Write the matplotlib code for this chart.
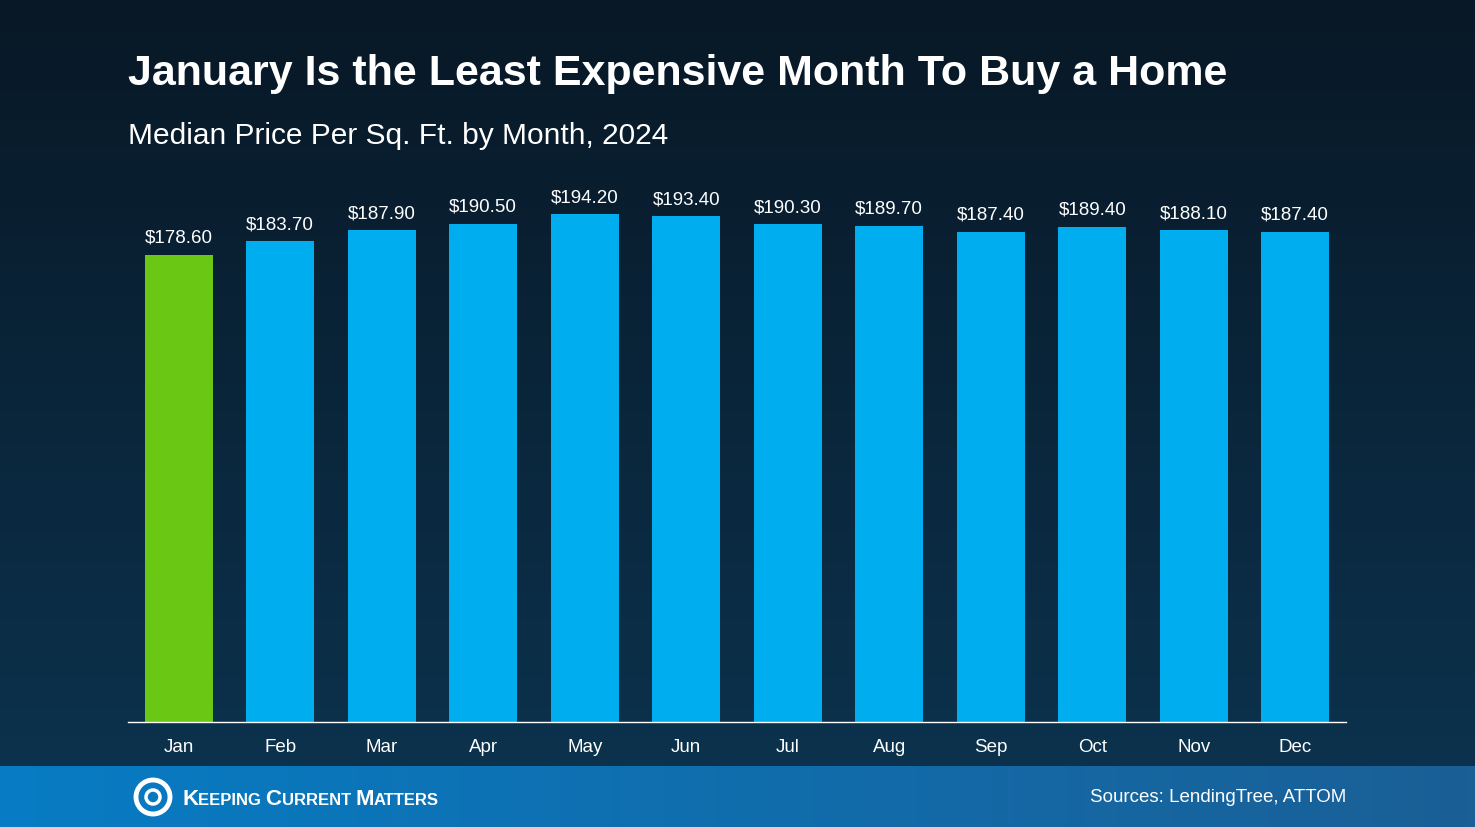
import numpy as np
import matplotlib
matplotlib.use("Agg")
import matplotlib.pyplot as plt
from matplotlib.patches import Ellipse

plt.rcParams['font.family'] = ['Liberation Sans', 'DejaVu Sans']

months = ["Jan", "Feb", "Mar", "Apr", "May", "Jun", "Jul", "Aug", "Sep", "Oct", "Nov", "Dec"]
prices = [178.6, 183.7, 187.9, 190.5, 194.2, 193.4, 190.3, 189.7, 187.4, 189.4, 188.1, 187.4]
labels = ["$%.2f" % p for p in prices]

W, H = 1475, 827
fig = plt.figure(figsize=(W / 100, H / 100), dpi=100)

# background gradient
bg = fig.add_axes([0, 0, 1, 1])
grad = np.linspace(0, 1, 256).reshape(-1, 1)
top = np.array([0x08, 0x18, 0x26]) / 255
bot = np.array([0x0c, 0x34, 0x50]) / 255
img = top + (bot - top) * grad[:, :, None]
bg.imshow(img, aspect="auto", extent=[0, 1, 0, 1], origin="upper")
# footer band
fh = 60 / H
fgrad = np.linspace(0, 1, 256).reshape(1, -1)
fl = np.array([0x07, 0x7c, 0xc4]) / 255
fr = np.array([0x1a, 0x5f, 0x96]) / 255
fimg = fl + (fr - fl) * fgrad[:, :, None]
bg.imshow(fimg, aspect="auto", extent=[0, 1, 0, fh], origin="upper")
bg.set_xlim(0, 1)
bg.set_ylim(0, 1)
bg.axis("off")

fig.text(128 / W, 1 - 74 / H, "January Is the Least Expensive Month To Buy a Home",
         color="white", fontsize=31, fontweight="bold", va="center", ha="left")
fig.text(128 / W, 1 - 136 / H, "Median Price Per Sq. Ft. by Month, 2024",
         color="white", fontsize=21.5, va="center", ha="left")

# logo
cx, cy = 153 / W, 1 - 797 / H
bg.add_patch(Ellipse((cx, cy), 34 / W, 34 / H, fill=False, ec="white", lw=3.5))
bg.add_patch(Ellipse((cx, cy), 14 / W, 14 / H, fill=False, ec="white", lw=2.5))
renderer = fig.canvas.get_renderer()
xpos = 182
for part, size in [("K", 16), ("EEPING ", 12), ("C", 16), ("URRENT ", 12), ("M", 16), ("ATTERS", 12)]:
    t = fig.text(xpos / W, 1 - 805 / H, part, color="white", fontsize=size,
                 fontweight="bold", va="baseline", ha="left")
    xpos += t.get_window_extent(renderer).width
fig.text(1346 / W, 1 - 797 / H, "Sources: LendingTree, ATTOM", color="white",
         fontsize=13.5, va="center", ha="right")

ax = fig.add_axes([128 / W, 1 - 722 / H, (1346 - 128) / W, 552 / H])
ax.patch.set_alpha(0)
colors = ["#6ac815"] + ["#00aeef"] * 11
x = np.arange(len(months))
ax.bar(x, prices, width=0.67, color=colors)
for xi, p, lab in zip(x, prices, labels):
    ax.text(xi, p + 3, lab, ha="center", va="bottom", color="white", fontsize=13.5)
ax.set_xlim(-0.5, 11.5)
ax.set_ylim(0, 211)
ax.set_yticks([])
ax.set_xticks(x)
ax.set_xticklabels(months, color="white", fontsize=13.5)
ax.tick_params(axis="x", length=0, pad=12)
for s in ["top", "right", "left"]:
    ax.spines[s].set_visible(False)
ax.spines["bottom"].set_color("white")
ax.spines["bottom"].set_linewidth(1)

fig.savefig("out.png", dpi=100)
